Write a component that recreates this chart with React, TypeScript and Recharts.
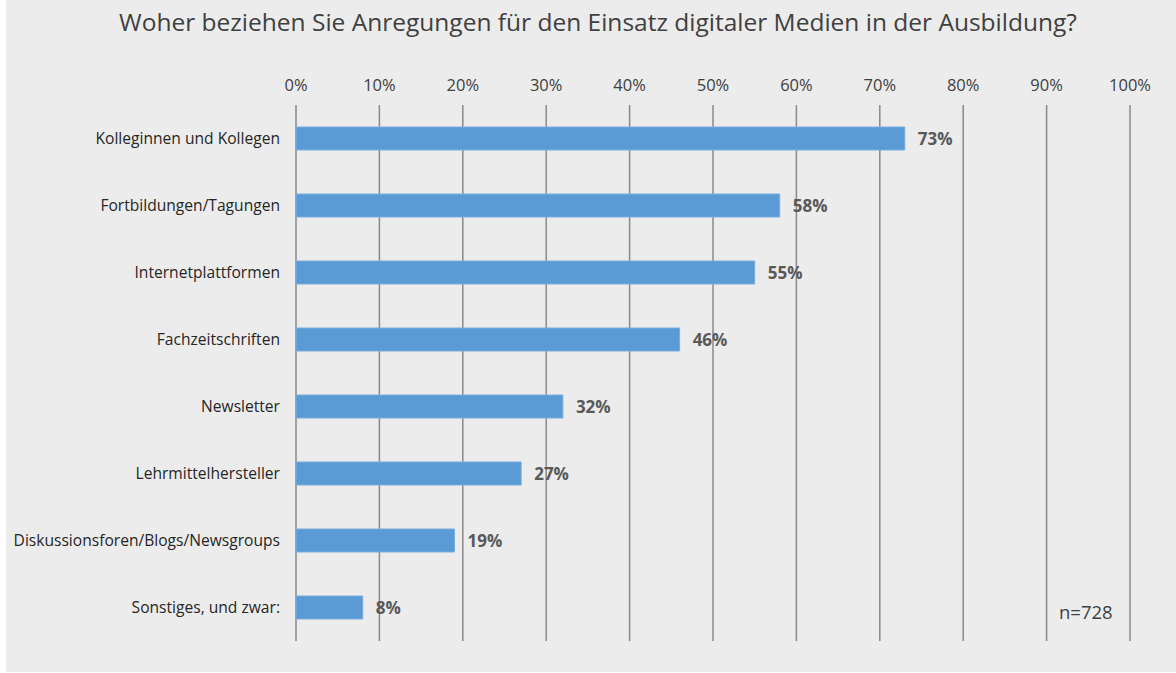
import React from 'react';
import { BarChart, Bar, XAxis, YAxis, CartesianGrid, LabelList } from 'recharts';

const categories = [
  'Kolleginnen und Kollegen',
  'Fortbildungen/Tagungen',
  'Internetplattformen',
  'Fachzeitschriften',
  'Newsletter',
  'Lehrmittelhersteller',
  'Diskussionsforen/Blogs/Newsgroups',
  'Sonstiges, und zwar:',
];
const shares = [0.73, 0.58, 0.55, 0.46, 0.32, 0.27, 0.19, 0.08];
const xTicks = [0, 0.1, 0.2, 0.3, 0.4, 0.5, 0.6, 0.7, 0.8, 0.9, 1];

const title = 'Woher beziehen Sie Anregungen für den Einsatz digitaler Medien in der Ausbildung?';
const sampleNote = 'n=728';

const chartData = categories.map((name, i) => ({ name, value: shares[i] }));

const pct = (v: number) => `${Math.round(v * 100)}%`;

const FONT = '"Open Sans", "Noto Sans", sans-serif';

const App: React.FC = () => {
  return (
    <div style={{ position: 'absolute', left: 0, top: 0, width: 1176, height: 673, background: '#fff' }}>
      <div
        style={{
          position: 'absolute',
          left: 6,
          top: 0,
          width: 1170,
          height: 672,
          background: '#ececec',
        }}
      />
      <div
        style={{
          position: 'absolute',
          left: 0,
          top: 6,
          width: 1196,
          textAlign: 'center',
          fontFamily: FONT,
          fontSize: 24.5,
          color: '#404040',
          lineHeight: '32px',
        }}
      >
        {title}
      </div>
      <div style={{ position: 'absolute', left: 0, top: 0 }}>
        <BarChart
          width={1176}
          height={673}
          data={chartData}
          layout="vertical"
          margin={{ top: 60, right: 46, bottom: 32, left: 0 }}
          barSize={23}
        >
          <CartesianGrid horizontal={false} stroke="#8a8a8a" strokeWidth={1.5} />
          <XAxis
            type="number"
            orientation="top"
            domain={[0, 1]}
            ticks={xTicks}
            tickFormatter={pct}
            axisLine={false}
            tickLine={false}
            height={45}
            tickMargin={8}
            tick={{ fill: '#404040', fontSize: 16.5, fontFamily: FONT }}
          />
          <YAxis
            type="category"
            dataKey="name"
            width={296}
            axisLine={false}
            tickLine={false}
            tickMargin={10}
            tick={{ fill: '#262626', fontSize: 15.6, fontFamily: FONT }}
          />
          <Bar dataKey="value" fill="#5b9bd5" stroke="#7aaede" strokeWidth={1} isAnimationActive={false}>
            <LabelList
              dataKey="value"
              position="right"
              offset={13}
              formatter={(v: any) => pct(Number(v))}
              style={{ fill: '#595959', fontSize: 17, fontWeight: 700, fontFamily: FONT }}
            />
          </Bar>
        </BarChart>
      </div>
      <div
        style={{
          position: 'absolute',
          left: 1059,
          top: 599,
          fontFamily: FONT,
          fontSize: 18.5,
          color: '#404040',
          lineHeight: '26px',
        }}
      >
        {sampleNote}
      </div>
    </div>
  );
};

export default App;
